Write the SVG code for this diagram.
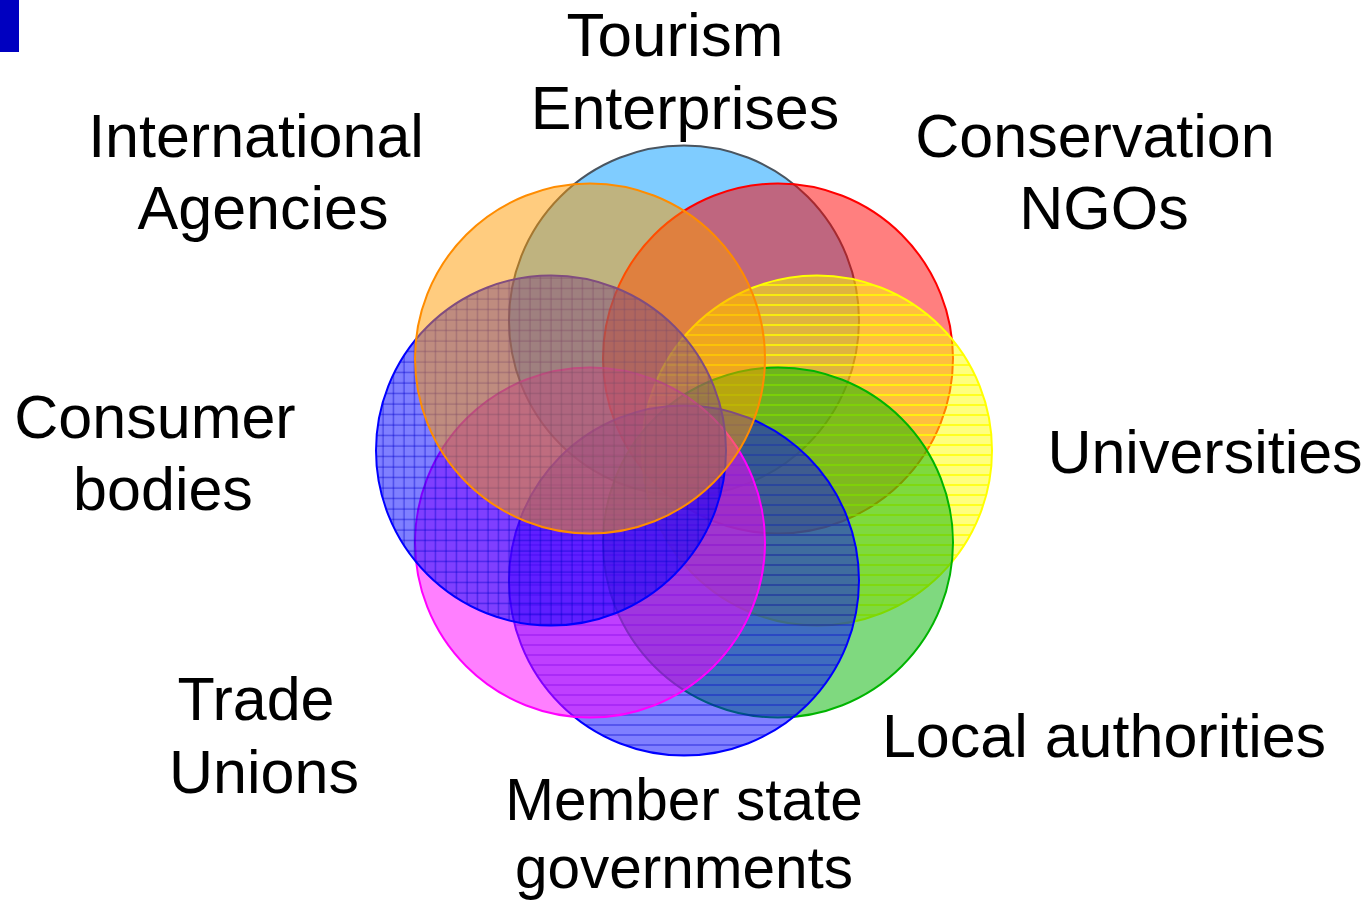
<svg xmlns="http://www.w3.org/2000/svg" width="1370" height="901" viewBox="0 0 1370 901">
<style>
text{font-family:"Liberation Sans",Arial,sans-serif;font-size:61px;fill:#000;text-anchor:middle}
.s{font-size:58.5px}
.c{stroke-width:2;fill-opacity:0.5}
</style>
<defs>
<pattern id="hYellow" patternUnits="userSpaceOnUse" width="10" height="10">
<line x1="0" y1="5" x2="10" y2="5" stroke="#FFFF00" stroke-width="1.5"/>
</pattern>
<pattern id="hBlue" patternUnits="userSpaceOnUse" width="10" height="10">
<line x1="0" y1="5" x2="10" y2="5" stroke="#0000CC" stroke-opacity="0.55" stroke-width="1.2"/>
</pattern>
<pattern id="gBlue" patternUnits="userSpaceOnUse" width="10.5" height="10.5">
<line x1="0" y1="5" x2="10.5" y2="5" stroke="#0000CC" stroke-opacity="0.5" stroke-width="1.2"/>
<line x1="5" y1="0" x2="5" y2="10.5" stroke="#0000CC" stroke-opacity="0.5" stroke-width="1.2"/>
</pattern>
</defs>
<rect x="0" y="0" width="19" height="52" fill="#0000C0"/>
<g id="tourism">
<circle class="c" cx="684" cy="320.5" r="175" fill="#0099FF" stroke="#4A5560"/>
</g>
<g id="conservation">
<circle class="c" cx="778" cy="358.5" r="175" fill="#FF0000" stroke="#FF0000"/>
</g>
<g id="universities">
<circle class="c" cx="817" cy="450.5" r="175" fill="#FFFF00" stroke="none"/>
<circle cx="817" cy="450.5" r="175" fill="url(#hYellow)" stroke="#FFFF00" stroke-width="2"/>
</g>
<g id="local">
<circle class="c" cx="778" cy="542.5" r="175" fill="#00B400" stroke="#00B400"/>
</g>
<g id="member">
<circle class="c" cx="684" cy="580.5" r="175" fill="#0000FF" stroke="none"/>
<circle cx="684" cy="580.5" r="175" fill="url(#hBlue)" stroke="#0000FF" stroke-width="2"/>
</g>
<g id="trade">
<circle class="c" cx="590" cy="542.5" r="175" fill="#FF00FF" stroke="#FF00FF"/>
</g>
<g id="consumer">
<circle class="c" cx="551" cy="450.5" r="175" fill="#0000FF" stroke="none"/>
<circle cx="551" cy="450.5" r="175" fill="url(#gBlue)" stroke="#0000FF" stroke-width="2"/>
</g>
<g id="international">
<circle class="c" cx="590" cy="358.5" r="175" fill="#FF9900" stroke="#FF8C00"/>
</g>
<g id="labels">
<text x="675" y="56" style="font-size:62px">Tourism</text>
<text x="685" y="129">Enterprises</text>
<text x="256" y="157">International</text>
<text x="263" y="229">Agencies</text>
<text x="1095" y="157">Conservation</text>
<text x="1104" y="229">NGOs</text>
<text x="155" y="438">Consumer</text>
<text x="163" y="510">bodies</text>
<text x="1205" y="473">Universities</text>
<text x="256" y="720">Trade</text>
<text x="264" y="793">Unions</text>
<text x="1104" y="757">Local authorities</text>
<text class="s" x="684" y="820">Member state</text>
<text class="s" x="684" y="888">governments</text>
</g>
</svg>
